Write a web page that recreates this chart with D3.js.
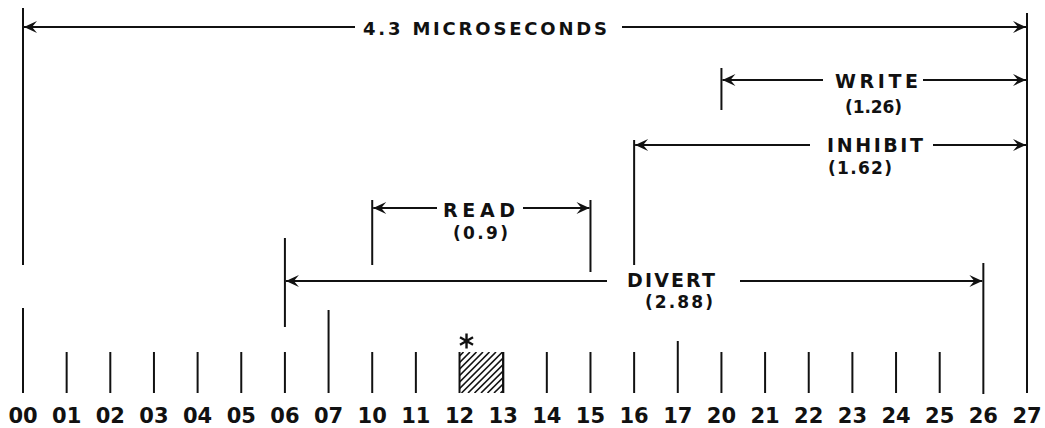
<!DOCTYPE html>
<html><head><meta charset="utf-8">
<script src="https://cdn.jsdelivr.net/npm/d3@7"></script>
<style>body{margin:0;background:#fff}svg{display:block}</style>
</head><body><svg id="c" width="1045" height="428"></svg>
<script>
// ---- data ----
const slots = ["00","01","02","03","04","05","06","07","10","11","12","13","14","15","16","17","20","21","22","23","24","25","26","27"];
const intervalNames  = ["4.3 MICROSECONDS","WRITE","INHIBIT","READ","DIVERT"];
const intervalValues = [null, "(1.26)", "(1.62)", "(0.9)", "(2.88)"];
const intervalStart  = ["00","20","16","10","06"];
const intervalEnd    = ["27","27","27","15","26"];
const tallSlots      = ["00","07","17"];
const hatchedFrom    = "12";
const hatchedTo      = "13";
const markedSlot     = "12";

// ---- layout (pixels) ----
const W = 1045, H = 428;
const svg = d3.select("#c");
const x = d3.scalePoint().domain(slots).range([23, 1027]);
const y = d3.scaleLinear().domain([0, H]).range([0, H]);
const ink = "#111";
const font = "'DejaVu Sans', sans-serif";

const rows = [
  {y:27,  lx:363, lw:244, lb:35,  fs:18, vx:null, vw:null, vb:null},
  {y:80,  lx:835, lw:83,  lb:88,  fs:19, vx:845, vw:57, vb:113},
  {y:145, lx:827, lw:96,  lb:152, fs:19, vx:828, vw:64, vb:174},
  {y:208, lx:443, lw:72,  lb:217, fs:19, vx:453, vw:55, vb:239},
  {y:281, lx:627, lw:88,  lb:287, fs:19, vx:645, vw:68, vb:308}
];
const valueSize = 17;
const gapL = [8, 12, 17, 6, 20], gapR = [15, 5, 10, 8, 25];

// boundary verticals [slot, top, bottom]
const verticals = [
  ["00", 8, 265], ["27", 13, 393], ["20", 68, 110], ["16", 140, 265],
  ["10", 200, 265], ["15", 200, 272], ["06", 238, 327], ["26", 263, 394]
];

// ---- ticks ----
const tickTop = {"00":308, "07":310, "17":341};
svg.append("g").selectAll("line")
  .data(slots.filter(s => s !== "26" && s !== "27"))
  .join("line")
  .attr("x1", d => x(d)).attr("x2", d => x(d))
  .attr("y1", d => y(tallSlots.includes(d) ? tickTop[d] : 352))
  .attr("y2", y(393))
  .attr("stroke", ink).attr("stroke-width", 2);

// tick labels
svg.append("g").selectAll("text").data(slots).join("text")
  .attr("x", d => x(d)).attr("y", y(423))
  .attr("text-anchor", "middle")
  .attr("font-family", font).attr("font-weight", "bold").attr("font-size", 21)
  .attr("fill", ink)
  .text(d => d);

// verticals
svg.append("g").selectAll("line").data(verticals).join("line")
  .attr("x1", d => x(d[0])).attr("x2", d => x(d[0]))
  .attr("y1", d => y(d[1])).attr("y2", d => y(d[2]))
  .attr("stroke", ink).attr("stroke-width", 2);

function arrowHead(tx, ty, dir) {
  const L = 13, h = 6, n = 8;
  return `M${tx},${ty} L${tx - dir*L},${ty - h} L${tx - dir*n},${ty} L${tx - dir*L},${ty + h} Z`;
}

const g = svg.append("g");
intervalNames.forEach((name, i) => {
  const r = rows[i];
  const x0 = x(intervalStart[i]), x1 = x(intervalEnd[i]);
  const yy = y(r.y);
  g.append("line").attr("x1", x0 + 1).attr("x2", r.lx - gapL[i]).attr("y1", yy).attr("y2", yy)
    .attr("stroke", ink).attr("stroke-width", 2.2);
  g.append("line").attr("x1", r.lx + r.lw + gapR[i]).attr("x2", x1 - 1).attr("y1", yy).attr("y2", yy)
    .attr("stroke", ink).attr("stroke-width", 2.2);
  g.append("path").attr("d", arrowHead(x0 + 1, yy, -1)).attr("fill", ink);
  g.append("path").attr("d", arrowHead(x1 - 1, yy, 1)).attr("fill", ink);
  g.append("text").attr("x", r.lx).attr("y", y(r.lb))
    .attr("textLength", r.lw).attr("lengthAdjust", "spacing")
    .attr("font-family", font).attr("font-weight", "bold").attr("font-size", r.fs)
    .attr("fill", ink).text(name);
  if (intervalValues[i]) {
    g.append("text").attr("x", r.vx).attr("y", y(r.vb))
      .attr("textLength", r.vw).attr("lengthAdjust", "spacing")
      .attr("font-family", font).attr("font-weight", "bold").attr("font-size", valueSize)
      .attr("fill", ink).text(intervalValues[i]);
  }
});

// hatched box
const hx0 = x(hatchedFrom), hx1 = x(hatchedTo), hy0 = y(352), hy1 = y(393);
const defs = svg.append("defs");
defs.append("clipPath").attr("id", "hclip").append("rect")
  .attr("x", hx0).attr("y", hy0).attr("width", hx1 - hx0).attr("height", hy1 - hy0);
const hg = svg.append("g").attr("clip-path", "url(#hclip)");
const offs = d3.range(-50, 50, 6.5);
hg.selectAll("line").data(offs).join("line")
  .attr("x1", d => hx0 + d).attr("y1", hy1)
  .attr("x2", d => hx0 + d + (hy1 - hy0)).attr("y2", hy0)
  .attr("stroke", ink).attr("stroke-width", 1.6);
svg.append("line").attr("x1", hx1).attr("x2", hx1).attr("y1", hy0).attr("y2", hy1)
  .attr("stroke", ink).attr("stroke-width", 2);

// asterisk mark
svg.append("path")
  .attr("d", d3.symbol(d3.symbolAsterisk, 160)())
  .attr("transform", `translate(${x(markedSlot) + 7},${y(341)})`)
  .attr("fill", "none").attr("stroke", ink).attr("stroke-width", 2.4);
</script></body></html>
